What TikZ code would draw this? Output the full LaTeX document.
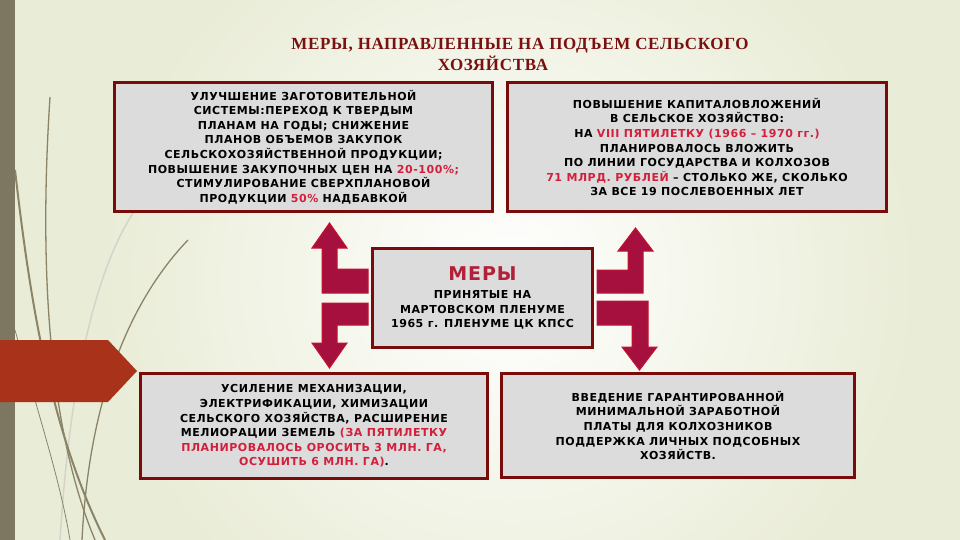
\documentclass[tikz,border=0pt]{standalone}
\usepackage{fontspec}
\setmainfont{Liberation Serif}
\newfontfamily\boxfont{DejaVu Sans}[LetterSpace=5]
\newfontfamily\titlefont{Liberation Serif}[LetterSpace=4]
\definecolor{boxred}{HTML}{7A0B0B}
\definecolor{boxgray}{HTML}{DCDCDC}
\definecolor{hired}{HTML}{D2203C}
\definecolor{meryred}{HTML}{B2213A}
\definecolor{titlered}{HTML}{7A1010}
\definecolor{arrowfill}{HTML}{A5103E}
\definecolor{arrowedge}{HTML}{C8102E}
\definecolor{stripe}{HTML}{7D7660}
\definecolor{pennant}{HTML}{A8321A}
\definecolor{grassgray}{HTML}{8A8468}
\definecolor{paper}{HTML}{E9ECD6}
\newcommand{\hi}[1]{\textcolor{hired}{#1}}
\tikzset{%
    measure/.style={draw=boxred, line width=3pt, fill=boxgray, inner sep=0pt,
    	align=center, font=\boxfont\bfseries\fontsize{11}{14.6}\selectfont},
    title/.style={text=titlered, inner sep=0pt,
    	font=\titlefont\bfseries\fontsize{17}{19}\selectfont},
    bendarrow/.style={fill=arrowfill, draw=arrowedge, line width=1pt},
    grass/.style={draw=grassgray, line width=1.3pt},
    palegrass/.style={draw=grassgray!35, line width=1.5pt}
}

\begin{document}
\begin{tikzpicture}[x=1pt, y=-1pt]
  \useasboundingbox (0,0) rectangle (960,540);
  \fill[paper] (0,0) rectangle (960,540);
  \shade[inner color=white, outer color=paper] (100,-120) rectangle (920,680);

  % grass on the left
  \draw[palegrass] (135,210) .. controls (95,270) and (70,380) .. (60,540);
  \draw[grass] (50,97) .. controls (40,250) and (45,420) .. (95,540);
  \draw[grass, line width=2pt] (15,170) .. controls (30,300) and (50,430) .. (105,540);
  \draw[grass] (188,240) .. controls (140,290) and (90,380) .. (82,540);
  \draw[grass, line width=0.8pt] (15,330) .. controls (40,420) and (60,480) .. (70,540);

  \fill[stripe] (0,0) rectangle (15,540);
  \fill[pennant] (0,340) -- (108,340) -- (137,371) -- (108,402) -- (0,402) -- cycle;

  \node (title1) [title] at (520,46) {МЕРЫ, НАПРАВЛЕННЫЕ НА ПОДЪЕМ СЕЛЬСКОГО};
  \node (title2) [title] at (493,63) {ХОЗЯЙСТВА};

  \node (procure) [measure, minimum width=378pt, minimum height=129pt] at (303.5,147)
    {УЛУЧШЕНИЕ ЗАГОТОВИТЕЛЬНОЙ\\ СИСТЕМЫ:ПЕРЕХОД К ТВЕРДЫМ\\ ПЛАНАМ НА ГОДЫ; СНИЖЕНИЕ\\
     ПЛАНОВ ОБЪЕМОВ ЗАКУПОК\\ СЕЛЬСКОХОЗЯЙСТВЕННОЙ ПРОДУКЦИИ;\\
     ПОВЫШЕНИЕ ЗАКУПОЧНЫХ ЦЕН НА \hi{20-100\%;}\\ СТИМУЛИРОВАНИЕ СВЕРХПЛАНОВОЙ\\
     ПРОДУКЦИИ \hi{50\%} НАДБАВКОЙ};
  \node (invest) [measure, minimum width=379pt, minimum height=129pt] at (697,147)
    {ПОВЫШЕНИЕ КАПИТАЛОВЛОЖЕНИЙ\\ В СЕЛЬСКОЕ ХОЗЯЙСТВО:\\
     НА \hi{VIII ПЯТИЛЕТКУ (1966 – 1970 гг.)}\\ ПЛАНИРОВАЛОСЬ ВЛОЖИТЬ\\
     ПО ЛИНИИ ГОСУДАРСТВА И КОЛХОЗОВ\\ \hi{71 МЛРД. РУБЛЕЙ} – СТОЛЬКО ЖЕ, СКОЛЬКО\\
     ЗА ВСЕ 19 ПОСЛЕВОЕННЫХ ЛЕТ};
  \node (mery) [measure, minimum width=220pt, minimum height=99pt] at (482.5,298)
    {{\fontsize{19}{22}\selectfont\textcolor{meryred}{МЕРЫ}}\\[3.5pt] ПРИНЯТЫЕ НА\\
     МАРТОВСКОМ ПЛЕНУМЕ\\ 1965 г. ПЛЕНУМЕ ЦК КПСС};
  \node (mech) [measure, minimum width=347pt, minimum height=105pt] at (314,426)
    {УСИЛЕНИЕ МЕХАНИЗАЦИИ,\\ ЭЛЕКТРИФИКАЦИИ, ХИМИЗАЦИИ\\ СЕЛЬСКОГО ХОЗЯЙСТВА, РАСШИРЕНИЕ\\
     МЕЛИОРАЦИИ ЗЕМЕЛЬ \hi{(ЗА ПЯТИЛЕТКУ}\\ \hi{ПЛАНИРОВАЛОСЬ ОРОСИТЬ 3 МЛН. ГА,}\\
     \hi{ОСУШИТЬ 6 МЛН. ГА)}.};
  \node (wage) [measure, minimum width=353pt, minimum height=104pt] at (678,425.5)
    {ВВЕДЕНИЕ ГАРАНТИРОВАННОЙ\\ МИНИМАЛЬНОЙ ЗАРАБОТНОЙ\\ ПЛАТЫ ДЛЯ КОЛХОЗНИКОВ\\
     ПОДДЕРЖКА ЛИЧНЫХ ПОДСОБНЫХ\\ ХОЗЯЙСТВ.};

  % bent arrows round the centre box
  \draw[bendarrow] (322,293) -- (322,248) -- (312,248) -- (329.5,223) -- (347,248)
    -- (337,248) -- (337,269) -- (368,269) -- (368,293) -- cycle;
  \draw[bendarrow] (322,303) -- (368,303) -- (368,325) -- (337,325) -- (337,343)
    -- (347,343) -- (329.5,368) -- (312,343) -- (322,343) -- cycle;
  \draw[bendarrow] (643,293) -- (643,251) -- (653,251) -- (635.5,228) -- (618,251)
    -- (628,251) -- (628,270) -- (597,270) -- (597,293) -- cycle;
  \draw[bendarrow] (597,301) -- (648,301) -- (648,347) -- (657,347) -- (639.5,370)
    -- (622,347) -- (632,347) -- (632,325) -- (597,325) -- cycle;
\end{tikzpicture}
\end{document}
